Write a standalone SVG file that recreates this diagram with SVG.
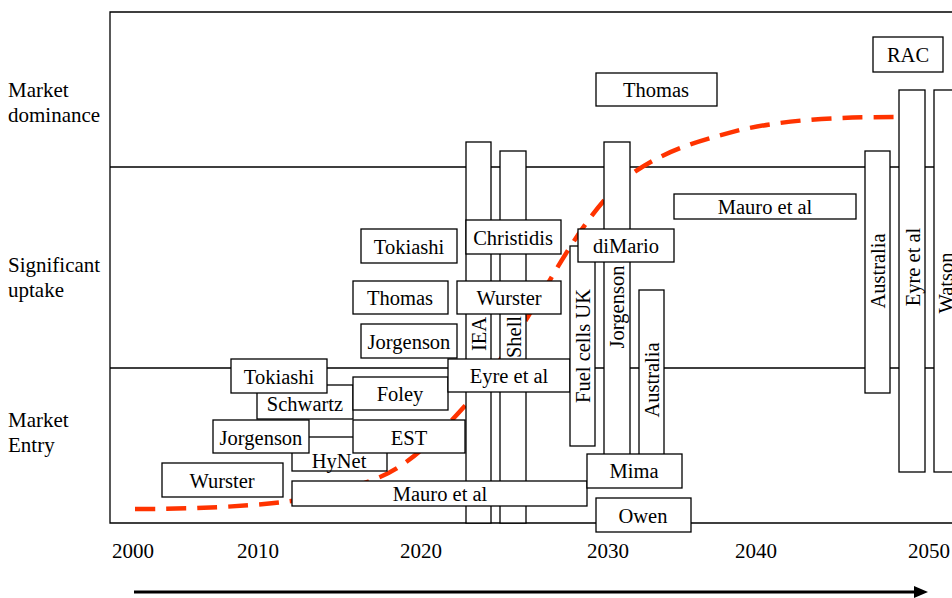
<svg xmlns="http://www.w3.org/2000/svg" width="952" height="598" viewBox="0 0 952 598">
<style>
text{font-family:'Liberation Serif','DejaVu Serif',serif;font-size:20.5px;fill:#000}
.l{font-size:21px}
.c{text-anchor:middle}
.b{fill:#fff;stroke:#000;stroke-width:1.3}
.f{fill:none;stroke:#000;stroke-width:1.3}
.curve{fill:none;stroke:#ff3300;stroke-width:4.5;stroke-dasharray:20 11}
</style>
<rect width="952" height="598" fill="#fff"/>
<g id="frame">
<path class="f" d="M952,12H110V523H952M110,167H952M110,368H952"/>
</g>
<g id="axis-labels">
<text class="l" x="8" y="97">Market</text><text class="l" x="8" y="122">dominance</text>
<text class="l" x="8" y="272">Significant</text><text class="l" x="8" y="297">uptake</text>
<text class="l" x="8" y="427">Market</text><text class="l" x="8" y="452">Entry</text>
<text class="c l" x="133" y="558">2000</text>
<text class="c l" x="258" y="558">2010</text>
<text class="c l" x="421" y="558">2020</text>
<text class="c l" x="608" y="558">2030</text>
<text class="c l" x="756" y="558">2040</text>
<text class="c l" x="929" y="558">2050</text>
</g>
<g id="connectors">
<path class="curve" d="M135,509 C190,509 240,507 283,502 C315,498.5 348,490 380,477 C408,465.5 435,439 463,408 C492,376 521,329 550,280 C578,232 605,193 633,173 C669,148 704,139.5 740,130 C793,118 850,117 900,117"/>
<line x1="134" y1="592" x2="916" y2="592" stroke="#000" stroke-width="3"/>
<polygon points="914,586 928,592 914,598" fill="#000"/>
</g>
<g id="n-schwartz"><rect class="b" x="257" y="385" width="96" height="34"/><text class="c" x="305" y="411">Schwartz</text></g>
<g id="n-tokiashi1"><rect class="b" x="231" y="359" width="96" height="34"/><text class="c" x="279" y="384">Tokiashi</text></g>
<g id="n-foley"><rect class="b" x="353" y="377" width="95" height="33"/><text class="c" x="400" y="401">Foley</text></g>
<g id="n-hynet"><rect class="b" x="292" y="437" width="95" height="34"/><text class="c" x="339" y="468">HyNet</text></g>
<g id="n-jorgenson1"><rect class="b" x="213" y="420" width="96" height="33"/><text class="c" x="261" y="445">Jorgenson</text></g>
<g id="n-est"><rect class="b" x="353" y="420" width="112" height="33"/><text class="c" x="409" y="445">EST</text></g>
<g id="n-wurster1"><rect class="b" x="162" y="463" width="121" height="34"/><text class="c" x="222" y="488">Wurster</text></g>
<g id="n-iea"><rect class="b" x="466" y="142" width="25" height="381"/><text class="c" transform="translate(485.5,334) rotate(-90)">IEA</text></g>
<g id="n-shell"><rect class="b" x="500" y="151" width="26" height="372"/><text class="c" transform="translate(520.5,337) rotate(-90)">Shell</text></g>
<g id="n-mauro1"><rect class="b" x="292" y="481" width="295" height="25"/><text class="c" x="440" y="501">Mauro et al</text></g>
<g id="n-tokiashi2"><rect class="b" x="361" y="229" width="96" height="34"/><text class="c" x="409" y="254">Tokiashi</text></g>
<g id="n-thomas1"><rect class="b" x="353" y="281" width="95" height="33"/><text class="c" x="400" y="305">Thomas</text></g>
<g id="n-jorgenson2"><rect class="b" x="361" y="324" width="96" height="34"/><text class="c" x="409" y="349">Jorgenson</text></g>
<g id="n-christidis"><rect class="b" x="466" y="220" width="95" height="34"/><text class="c" x="513" y="245">Christidis</text></g>
<g id="n-wurster2"><rect class="b" x="457" y="281" width="104" height="33"/><text class="c" x="509" y="305">Wurster</text></g>
<g id="n-eyre1"><rect class="b" x="448" y="359" width="122" height="33"/><text class="c" x="509" y="383">Eyre et al</text></g>
<g id="n-fuelcells"><rect class="b" x="570" y="246" width="25" height="200"/><text class="c" transform="translate(589.5,346) rotate(-90)">Fuel cells UK</text></g>
<g id="n-jorgenson3"><rect class="b" x="604" y="142" width="26" height="320"/><text class="c" transform="translate(623.5,307) rotate(-90)">Jorgenson</text></g>
<g id="n-australia1"><rect class="b" x="639" y="290" width="25" height="172"/><text class="c" transform="translate(658.5,380) rotate(-90)">Australia</text></g>
<g id="n-dimario"><rect class="b" x="578" y="229" width="96" height="33"/><text class="c" x="626" y="253">diMario</text></g>
<g id="n-mima"><rect class="b" x="587" y="454" width="95" height="34"/><text class="c" x="634" y="478">Mima</text></g>
<g id="n-owen"><rect class="b" x="596" y="498" width="95" height="34"/><text class="c" x="643" y="523">Owen</text></g>
<g id="n-thomas2"><rect class="b" x="596" y="73" width="121" height="33"/><text class="c" x="656" y="97">Thomas</text></g>
<g id="n-mauro2"><rect class="b" x="674" y="194" width="182" height="25"/><text class="c" x="765" y="214">Mauro et al</text></g>
<g id="n-rac"><rect class="b" x="873" y="37" width="70" height="35"/><text class="c" x="908" y="62">RAC</text></g>
<g id="n-australia2"><rect class="b" x="865" y="151" width="25" height="242"/><text class="c" transform="translate(884.5,271) rotate(-90)">Australia</text></g>
<g id="n-eyre2"><rect class="b" x="899" y="90" width="26" height="382"/><text class="c" transform="translate(919.5,267) rotate(-90)">Eyre et al</text></g>
<g id="n-watson"><rect class="b" x="934" y="90" width="30" height="382"/><text class="c" transform="translate(953,283) rotate(-90)">Watson</text></g>
</svg>
